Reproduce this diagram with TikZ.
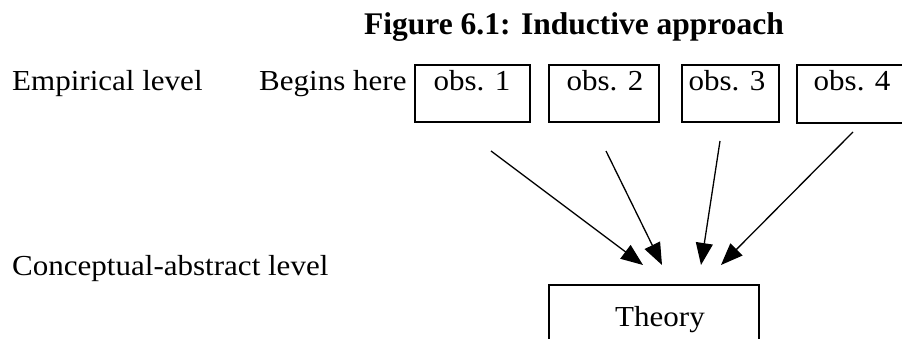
\documentclass[tikz,border=0pt]{standalone}
\usepackage{fontspec}
\setmainfont[FakeStretch=1.07]{Liberation Serif}
\newfontfamily\headfont{Liberation Serif}
\usetikzlibrary{arrows.meta}
\begin{document}
\begin{tikzpicture}[x=1pt,y=-1pt,
  txt/.style={inner sep=0pt,anchor=base,font=\fontsize{29}{35}\selectfont},
  lefttxt/.style={txt,anchor=base west},
  headtxt/.style={inner sep=0pt,anchor=base,font=\headfont\fontsize{31.5}{38}\selectfont\bfseries},
  obsbox/.style={draw,line width=1.6pt,inner sep=0pt,anchor=north west},
  flow/.style={line width=1.3pt,-{Triangle[length=22pt,width=17pt]}}]
\clip (0,0) rectangle (902,339);
\fill[white] (0,0) rectangle (902,339);

% heading
\node[headtxt] (title) at (574,35) {Figure 6.1: Inductive approach};

% level labels
\node[lefttxt] (emp) at (12,91) {Empirical level};
\node[lefttxt] (begin) at (259,91) {Begins here};
\node[lefttxt] (conc) at (12,275) {Conceptual-abstract level};

% observation boxes
\node[obsbox,minimum width=115pt,minimum height=57pt] (o1) at (414,64) {};
\node[obsbox,minimum width=110pt,minimum height=57pt] (o2) at (548,64) {};
\node[obsbox,minimum width=97pt,minimum height=57pt] (o3) at (681,64) {};
\node[obsbox,minimum width=130pt,minimum height=58pt] (o4) at (796,64) {};
\node[txt] (t1) at (472,91) {obs. 1};
\node[txt] (t2) at (605,91) {obs. 2};
\node[txt] (t3) at (727,91) {obs. 3};
\node[txt] (t4) at (852,91) {obs. 4};

% theory box, running off the lower edge
\node[obsbox,minimum width=210pt,minimum height=90pt] (th) at (548,284) {};
\node[txt] (tt) at (660,326) {Theory};

% arrows from the observations to the theory
\coordinate (s1) at (491,151); \coordinate (e1) at (643,265);
\coordinate (s2) at (606,151); \coordinate (e2) at (662,265);
\coordinate (s3) at (720,141); \coordinate (e3) at (701,265);
\coordinate (s4) at (853,132); \coordinate (e4) at (721,265);
\draw[flow] (s1) -- (e1);
\draw[flow] (s2) -- (e2);
\draw[flow] (s3) -- (e3);
\draw[flow] (s4) -- (e4);
\end{tikzpicture}
\end{document}
